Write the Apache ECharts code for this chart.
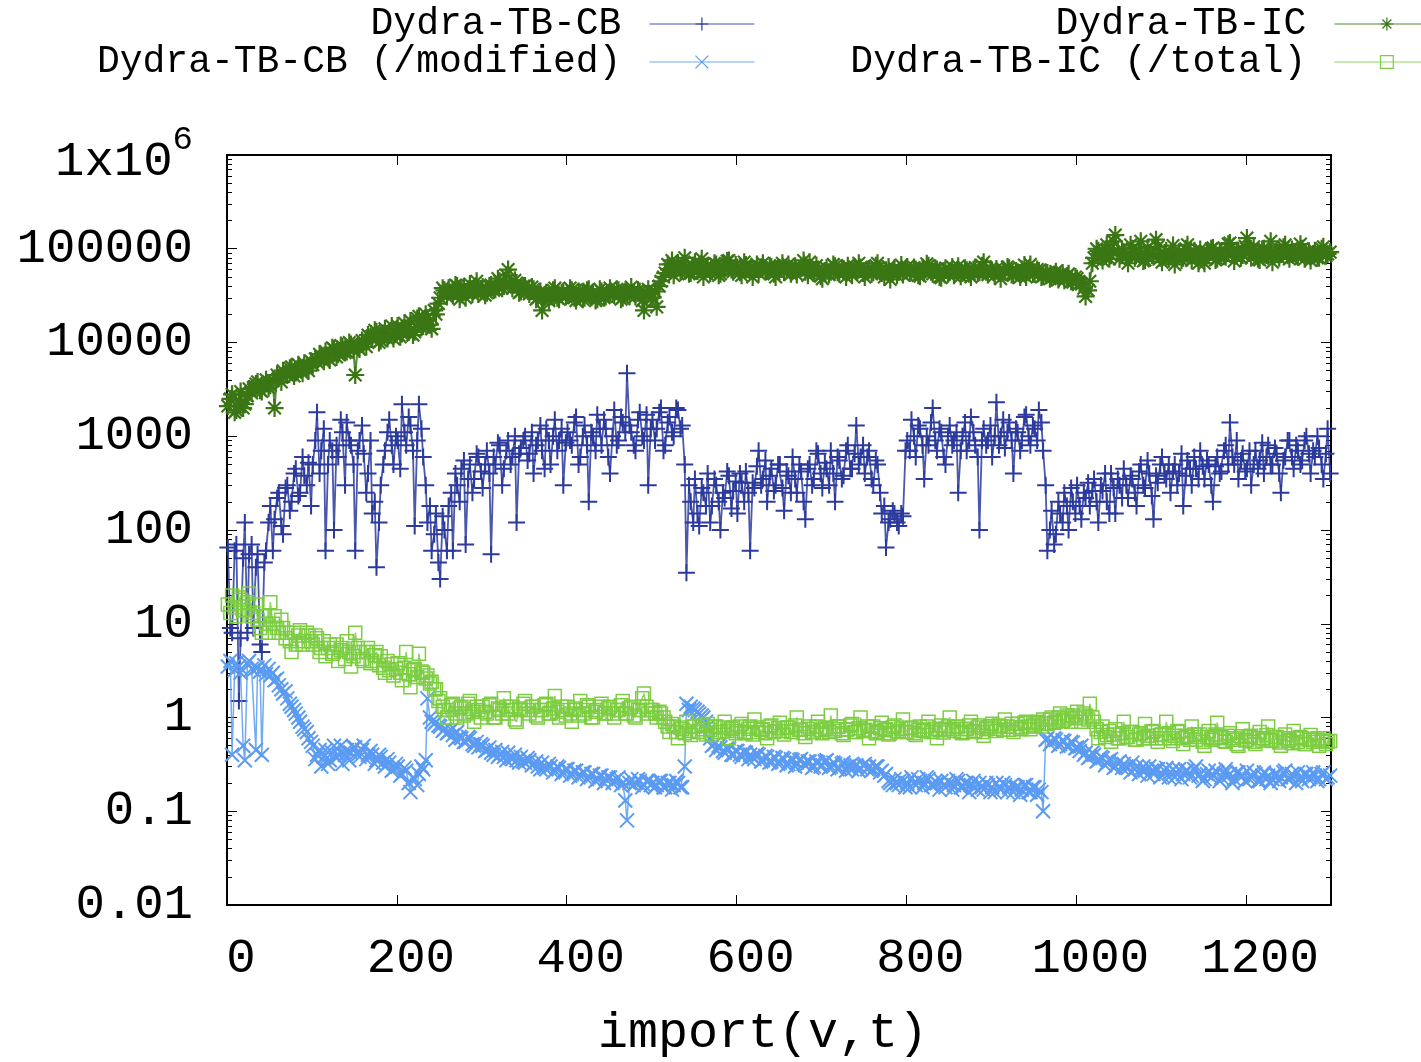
<!DOCTYPE html>
<html><head><meta charset="utf-8">
<script src="https://cdn.jsdelivr.net/npm/echarts@6/dist/echarts.min.js"></script>
<style>html,body{margin:0;padding:0;background:#fff}#c{width:1421px;height:1062px}</style>
</head><body><div id="c"></div>
<script>
// import index (x)
const importIdx = [
1,4,6,9,11,14,16,19,21,24,26,29,31,34,36,39,41,44,46,49,
51,54,56,59,61,64,66,69,71,74,76,79,81,84,86,89,91,94,96,99,
101,104,106,109,111,114,116,119,121,124,126,129,131,134,136,139,141,144,146,149,
151,154,156,159,161,164,166,169,171,174,176,179,181,184,186,189,191,194,196,199,
201,204,206,209,211,214,216,219,221,224,226,229,231,234,236,239,241,244,246,249,
251,254,256,259,261,264,266,269,271,274,276,279,281,284,286,289,291,294,296,299,
301,304,306,309,311,314,316,319,321,324,326,329,331,334,336,339,341,344,346,349,
351,354,356,359,361,364,366,369,371,374,376,379,381,384,386,389,391,394,396,399,
401,404,406,409,411,414,416,419,421,424,426,429,431,434,436,439,441,444,446,449,
451,454,456,459,461,464,466,469,471,474,476,479,481,484,486,489,491,494,496,499,
501,504,506,509,511,514,516,519,521,524,526,529,531,534,536,539,541,544,546,549,
551,554,556,559,561,564,566,569,571,574,576,579,581,584,586,589,591,594,596,599,
601,604,606,609,611,614,616,619,621,624,626,629,631,634,636,639,641,644,646,649,
651,654,656,659,661,664,666,669,671,674,676,679,681,684,686,689,691,694,696,699,
701,704,706,709,711,714,716,719,721,724,726,729,731,734,736,739,741,744,746,749,
751,754,756,759,761,764,766,769,771,774,776,779,781,784,786,789,791,794,796,799,
801,804,806,809,811,814,816,819,821,824,826,829,831,834,836,839,841,844,846,849,
851,854,856,859,861,864,866,869,871,874,876,879,881,884,886,889,891,894,896,899,
901,904,906,909,911,914,916,919,921,924,926,929,931,934,936,939,941,944,946,949,
951,954,956,959,961,964,966,969,971,974,976,979,981,984,986,989,991,994,996,999,
1001,1004,1006,1009,1011,1014,1016,1019,1021,1024,1026,1029,1031,1034,1036,1039,1041,1044,1046,1049,
1051,1054,1056,1059,1061,1064,1066,1069,1071,1074,1076,1079,1081,1084,1086,1089,1091,1094,1096,1099,
1101,1104,1106,1109,1111,1114,1116,1119,1121,1124,1126,1129,1131,1134,1136,1139,1141,1144,1146,1149,
1151,1154,1156,1159,1161,1164,1166,1169,1171,1174,1176,1179,1181,1184,1186,1189,1191,1194,1196,1199,
1201,1204,1206,1209,1211,1214,1216,1219,1221,1224,1226,1229,1231,1234,1236,1239,1241,1244,1246,1249,
1251,1254,1256,1259,1261,1264,1266,1269,1271,1274,1276,1279,1281,1284,1286,1289,1291,1294,1296,1299
];
// Dydra-TB-CB
const cbValues = [
65,9,8,60,70,1.5,7,50,120,8,55,70,9,40,55,6,5,45,60,120,
180,60,130,220,250,110,90,280,300,160,200,400,450,230,250,600,380,300,520,180,
500,900,1800,400,700,1200,60,500,900,700,100,800,600,1500,1100,300,1400,900,800,500,
60,700,900,1300,650,250,400,900,150,200,40,120,300,500,700,1100,1500,800,500,1000,
900,450,2200,1100,800,1600,1300,700,110,900,2200,1200,600,300,120,180,60,90,150,45,
30,140,100,60,180,250,60,400,300,200,450,550,70,350,500,250,350,650,600,420,
280,500,700,400,55,600,500,850,800,300,450,700,900,500,600,1000,120,650,750,900,
1000,550,650,1100,400,800,900,1300,700,450,1200,900,500,1000,1500,700,900,1200,300,850,
1100,900,800,1400,1600,500,600,1000,1300,800,200,1100,1000,700,1700,1200,800,1500,1200,600,
400,1000,1900,800,900,1600,1400,1100,4700,1300,1100,800,700,1500,1800,1000,900,1700,300,1200,
1500,900,1200,1800,2000,700,800,1400,1600,1100,1000,2000,1900,1200,1300,500,35,300,200,120,
350,150,110,280,250,180,400,120,180,350,300,200,100,250,220,420,380,170,260,330,
150,400,320,200,420,250,60,320,280,480,700,300,350,550,200,380,450,260,300,500,
500,280,160,420,380,250,600,350,250,500,420,200,130,450,500,300,350,700,650,400,
280,520,450,300,700,400,200,600,550,350,380,700,800,450,450,650,1300,500,600,800,
400,600,700,350,300,550,500,250,150,180,65,120,130,160,150,120,110,150,140,700,
900,700,1500,1000,600,1300,1200,800,350,1000,800,1400,2000,900,700,1200,1100,600,500,1000,
1300,800,900,1100,250,700,1000,1400,700,900,1600,1100,800,600,100,900,1200,800,900,1300,
600,1000,2300,800,1000,1500,750,1100,1400,900,400,1200,1100,700,900,1600,1700,1000,800,1300,
1200,900,1900,1400,700,300,60,100,160,70,90,200,150,120,250,180,100,280,200,150,
300,180,130,250,220,320,180,260,350,200,120,300,260,400,200,150,400,280,150,350,
300,220,450,300,220,380,350,250,180,420,500,300,280,550,400,230,130,380,320,500,
600,400,350,500,250,420,500,300,400,650,180,380,550,450,300,600,450,350,700,480,
350,550,500,300,200,480,600,400,420,700,800,500,1400,600,500,900,350,550,650,420,
450,700,300,500,700,450,550,850,400,600,800,500,500,750,650,400,250,550,600,900,
900,600,450,800,700,500,550,900,1000,650,400,700,600,1000,750,500,350,650,1200,400
];
// Dydra-TB-CB (/modified)
const cbModifiedValues = [
3.5,4,0.4,3.2,3.8,3.5,3,0.5,0.35,3.8,4,3.3,3.2,0.45,3.4,3.1,0.4,3.6,2.9,3.3,
2.8,3,2.5,2.6,2.2,2,1.8,1.9,1.6,1.4,1.3,1.2,1.1,1.0,0.9,0.8,0.75,0.7,0.6,0.55,
0.5,0.36,0.4,0.45,0.3,0.38,0.45,0.32,0.35,0.42,0.5,0.37,0.4,0.5,0.32,0.4,0.45,0.35,0.42,0.48,
0.48,0.4,0.38,0.45,0.5,0.36,0.4,0.44,0.4,0.32,0.35,0.4,0.38,0.33,0.3,0.36,0.33,0.27,0.28,0.32,
0.3,0.24,0.25,0.29,0.27,0.2,0.16,0.23,0.22,0.19,0.25,0.3,0.28,0.35,1.6,1.0,0.9,0.85,0.9,0.82,
0.8,0.72,0.75,0.68,0.7,0.74,0.65,0.58,0.7,0.62,0.6,0.55,0.55,0.62,0.6,0.52,0.5,0.55,0.48,0.52,
0.5,0.44,0.45,0.48,0.42,0.4,0.45,0.38,0.4,0.43,0.38,0.35,0.42,0.37,0.36,0.4,0.35,0.33,0.38,0.34,
0.33,0.37,0.35,0.31,0.32,0.34,0.3,0.28,0.33,0.29,0.28,0.32,0.3,0.26,0.27,0.3,0.29,0.25,0.26,0.28,
0.28,0.24,0.25,0.27,0.27,0.23,0.24,0.26,0.26,0.22,0.23,0.25,0.25,0.21,0.22,0.24,0.24,0.2,0.22,0.23,
0.23,0.2,0.21,0.22,0.23,0.19,0.2,0.13,0.08,0.2,0.22,0.19,0.2,0.22,0.21,0.18,0.19,0.21,0.21,0.19,
0.2,0.18,0.19,0.21,0.21,0.18,0.18,0.2,0.2,0.17,0.19,0.21,0.2,0.18,0.18,0.3,1.4,1.2,1.3,1.25,
1.2,1.15,1.1,1.05,1.0,0.9,0.8,0.6,0.5,0.52,0.45,0.5,0.48,0.44,0.42,0.47,0.46,0.4,0.4,0.44,
0.44,0.4,0.38,0.43,0.42,0.36,0.4,0.38,0.36,0.41,0.4,0.34,0.35,0.39,0.38,0.33,0.34,0.38,0.37,0.32,
0.33,0.37,0.36,0.31,0.32,0.36,0.35,0.3,0.33,0.35,0.36,0.32,0.31,0.34,0.34,0.29,0.3,0.34,0.33,0.3,
0.31,0.34,0.35,0.29,0.3,0.33,0.32,0.28,0.29,0.32,0.33,0.27,0.3,0.31,0.28,0.3,0.31,0.27,0.29,0.31,
0.32,0.28,0.3,0.27,0.28,0.3,0.3,0.26,0.27,0.24,0.25,0.21,0.2,0.19,0.22,0.2,0.19,0.22,0.21,0.18,
0.2,0.18,0.23,0.2,0.19,0.22,0.21,0.18,0.2,0.23,0.22,0.19,0.19,0.21,0.2,0.17,0.21,0.19,0.18,0.21,
0.2,0.17,0.19,0.22,0.21,0.18,0.18,0.2,0.2,0.16,0.19,0.21,0.18,0.17,0.2,0.18,0.17,0.2,0.19,0.16,
0.18,0.16,0.2,0.18,0.17,0.2,0.19,0.16,0.18,0.19,0.16,0.18,0.18,0.15,0.17,0.19,0.19,0.16,0.16,0.18,
0.18,0.15,0.17,0.16,0.1,0.58,0.6,0.52,0.55,0.6,0.58,0.5,0.52,0.57,0.56,0.49,0.5,0.55,0.54,0.47,
0.48,0.44,0.5,0.4,0.42,0.37,0.38,0.42,0.4,0.34,0.35,0.38,0.37,0.31,0.33,0.35,0.36,0.29,0.3,0.33,
0.34,0.29,0.32,0.3,0.29,0.26,0.33,0.28,0.3,0.25,0.28,0.3,0.27,0.24,0.3,0.27,0.25,0.28,0.28,0.23,
0.24,0.27,0.29,0.23,0.26,0.28,0.23,0.25,0.28,0.22,0.25,0.27,0.27,0.23,0.24,0.28,0.3,0.24,0.25,0.21,
0.22,0.25,0.27,0.23,0.24,0.27,0.26,0.21,0.23,0.25,0.28,0.24,0.25,0.2,0.22,0.26,0.26,0.23,0.24,0.21,
0.27,0.22,0.23,0.26,0.25,0.21,0.21,0.24,0.26,0.22,0.24,0.2,0.22,0.25,0.25,0.21,0.23,0.26,0.27,0.22,
0.22,0.25,0.24,0.2,0.26,0.23,0.21,0.25,0.25,0.22,0.23,0.26,0.24,0.21,0.22,0.25,0.26,0.22,0.23,0.24
];
// Dydra-TB-IC
const icValues = [
2100,2500,2800,1800,1900,2400,3000,2000,2200,2700,3200,2900,3300,3600,3800,3100,3000,3500,4000,3300,
3500,3900,2000,4500,4200,3800,5000,4600,4500,5300,5500,4400,4800,5800,5200,4700,6000,5400,5000,6300,
5800,6700,6200,7500,7000,6300,8000,7200,6500,8800,8500,7000,7500,9300,9000,7800,8000,10000,9500,8300,
4500,9000,8500,10500,10000,9000,12000,11500,11000,13500,13000,10000,10500,12500,14000,11000,12000,15000,11000,12500,
15000,11500,12500,16000,14000,13000,17000,12000,13000,18000,19000,14500,15000,20000,18000,15500,14000,22000,20000,26000,
30000,38000,36000,31000,38000,34000,32000,41000,40000,29000,35000,39000,30000,36000,42000,33000,36000,45000,33000,37000,
39000,32000,34000,40000,41000,36000,37000,48000,45000,38000,40000,52000,60000,42000,38000,46000,43000,34000,35000,40000,
40000,36000,33000,39000,37000,29000,30000,35000,22000,32000,34000,28000,31000,36000,38000,30000,29000,34000,35000,31000,
32000,38000,36000,30000,28000,35000,34000,29000,30000,36000,37000,32000,33000,28000,29000,37000,35000,30000,31000,34000,
38000,33000,32000,37000,36000,29000,30000,35000,34000,31000,39000,34000,31000,36000,35000,28000,22000,33000,37000,30000,
30000,35000,24000,40000,45000,50000,55000,68000,60000,75000,52000,62000,70000,56000,58000,80000,65000,54000,55000,66000,
72000,58000,60000,78000,50000,64000,66000,55000,58000,70000,68000,52000,54000,65000,62000,74000,75000,60000,57000,67000,
63000,56000,52000,72000,67000,60000,59000,50000,61000,68000,55000,63000,70000,57000,58000,66000,64000,54000,50000,62000,
62000,70000,56000,60000,68000,54000,59000,65000,53000,61000,63000,75000,57000,52000,72000,60000,55000,66000,60000,51000,
48000,58000,62000,53000,57000,68000,65000,56000,54000,62000,60000,50000,66000,59000,52000,64000,58000,70000,63000,55000,
50000,60000,61000,54000,56000,66000,70000,58000,55000,50000,59000,64000,47000,56000,62000,52000,57000,67000,53000,59000,
64000,55000,56000,63000,60000,52000,51000,61000,58000,69000,66000,57000,54000,62000,60000,50000,49000,58000,62000,54000,
57000,64000,52000,58000,65000,51000,55000,62000,59000,54000,50000,60000,63000,55000,56000,66000,72000,57000,53000,61000,
58000,52000,61000,55000,48000,60000,57000,64000,62000,53000,52000,58000,56000,50000,60000,67000,50000,56000,68000,54000,
54000,60000,58000,50000,51000,56000,55000,48000,49000,53000,57000,47000,52000,55000,46000,51000,54000,45000,44000,50000,
48000,43000,42000,38000,31000,36000,45000,70000,80000,100000,95000,82000,75000,90000,110000,78000,85000,120000,140000,95000,
78000,98000,92000,84000,70000,110000,100000,80000,88000,96000,120000,74000,76000,102000,90000,86000,82000,125000,105000,80000,
72000,90000,95000,78000,86000,108000,68000,84000,92000,76000,80000,100000,110000,85000,75000,95000,88000,70000,98000,82000,
70000,92000,85000,100000,102000,76000,78000,94000,90000,84000,82000,112000,115000,88000,74000,96000,95000,80000,86000,106000,
130000,90000,80000,105000,92000,78000,76000,98000,100000,86000,84000,120000,72000,92000,96000,80000,88000,104000,110000,85000,
78000,98000,90000,84000,82000,112000,100000,78000,86000,94000,75000,88000,95000,80000,80000,100000,105000,84000,88000,92000
];
// Dydra-TB-IC (/total)
const icTotalValues = [
16,13,20,15,12,19,18,14,14,17,21,12,13,16,11,9,8,12,10,8,
17,10,12,9,8,11,9,7,8,6.5,5,8,6,7.5,8.5,6,6.5,8,7.5,6.5,
6,7.5,7,5,5.5,6.5,4.5,5.5,6,4.8,5,6,4,5.2,5.5,4.2,6.5,5,3.5,4.5,
8,5.5,5,4.2,4,5,5.5,3.8,4,4.6,5,3.6,4.5,3.4,3,4,3.2,3.7,2.8,3.3,
3.8,3,2.5,3.4,5,2.9,2.1,3.2,3.3,2.7,4.8,3.1,3,2.6,2.8,2.3,2.4,2.0,2.0,1.5,
1.6,1.3,1.2,1.0,1.2,1.35,1.4,1.1,1.0,1.25,1.3,1.05,1.1,1.4,1.5,1.15,0.9,1.3,1.2,1.0,
1.3,1.15,1.1,1.35,1.4,1.0,1.0,1.25,1.2,1.1,1.6,1.3,1.1,1.2,1.3,0.95,0.9,1.25,1.2,1.4,
1.5,1.2,1.1,1.3,1.3,1.05,1.0,1.2,1.2,1.35,1.4,1.1,1.1,1.25,1.7,1.15,1.0,1.3,1.2,1.05,
1.3,1.1,0.9,1.25,1.2,1.05,1.5,1.2,1.1,1.35,1.3,1.0,1.0,1.15,1.2,1.3,1.4,1.1,1.1,1.25,
1.3,1.1,1.0,1.2,1.2,1.35,1.5,1.1,1.1,1.25,1.3,1.05,1.0,1.2,1.2,1.6,1.8,1.3,1.1,1.2,
1.2,1.1,1.0,1.15,1.1,1.0,0.9,0.8,0.7,0.85,0.8,0.7,0.6,0.78,0.75,0.68,0.9,0.72,0.65,0.8,
0.8,0.7,0.7,0.82,0.75,0.66,0.85,0.74,0.65,0.8,0.8,0.7,0.7,0.78,0.9,0.72,0.6,0.76,0.78,0.68,
0.72,0.8,0.85,0.7,0.68,0.76,0.8,0.66,0.95,0.78,0.7,0.74,0.75,0.68,0.6,0.8,0.82,0.7,0.72,0.77,
0.88,0.72,0.66,0.78,0.78,0.7,0.7,0.82,1.0,0.74,0.74,0.68,0.62,0.76,0.8,0.7,0.7,0.8,0.9,0.73,
0.68,0.78,0.76,0.7,1.05,0.75,0.72,0.8,0.8,0.68,0.65,0.74,0.75,0.82,0.85,0.7,0.7,0.77,1.0,0.72,
0.74,0.8,0.6,0.72,0.8,0.68,0.7,0.77,0.88,0.73,0.75,0.66,0.68,0.79,0.82,0.71,0.72,0.76,0.95,0.7,
0.7,0.77,0.78,0.68,0.65,0.74,0.8,0.72,0.74,0.8,0.9,0.7,0.7,0.76,0.6,0.73,0.82,0.69,0.76,0.8,
1.0,0.75,0.72,0.79,0.8,0.7,0.68,0.76,0.75,0.82,0.9,0.72,0.7,0.78,0.82,0.7,0.64,0.75,0.78,0.81,
0.86,0.76,0.72,0.82,0.8,0.74,0.95,0.8,0.74,0.86,0.7,0.79,0.85,0.75,0.78,0.88,0.9,0.8,0.75,0.84,
0.82,0.9,0.88,0.8,0.95,0.86,0.85,0.95,1.0,0.88,0.9,1.0,1.1,0.92,0.95,1.05,1.0,0.9,1.05,0.98,
1.15,1.0,0.9,1.1,1.05,0.95,1.4,1.0,0.9,0.75,0.6,0.7,0.8,0.62,0.65,0.72,0.55,0.66,0.75,0.6,
0.6,0.68,0.9,0.62,0.62,0.7,0.7,0.58,0.58,0.66,0.68,0.6,0.85,0.64,0.6,0.7,0.72,0.6,0.55,0.65,
0.66,0.6,0.9,0.68,0.6,0.56,0.64,0.72,0.7,0.6,0.52,0.64,0.62,0.58,0.8,0.66,0.58,0.62,0.66,0.55,
0.5,0.62,0.72,0.58,0.6,0.66,0.88,0.6,0.62,0.56,0.55,0.64,0.68,0.58,0.6,0.52,0.5,0.63,0.75,0.57,
0.58,0.62,0.64,0.55,0.52,0.6,0.7,0.57,0.6,0.65,0.8,0.58,0.56,0.62,0.62,0.54,0.5,0.6,0.66,0.56,
0.58,0.53,0.72,0.6,0.55,0.62,0.6,0.52,0.52,0.58,0.65,0.55,0.58,0.6,0.5,0.57,0.6,0.52,0.55,0.56
];
const seriesNames = ['Dydra-TB-CB','Dydra-TB-CB (/modified)','Dydra-TB-IC','Dydra-TB-IC (/total)'];
const xTickValues = [0,200,400,600,800,1000,1200];
const yTickValues = [0.01,0.1,1,10,100,1000,10000,100000,1000000];
const yTickLabels = ['0.01','0.1','1','10','100','1000','10000','100000','1x10^6'];
const xAxisTitle = 'import(v,t)';

const FONT = '"Liberation Mono","DejaVu Sans Mono",monospace';
const COLORS = ['#2b3a9c','#5b9bf2','#3a7614','#7ccd42'];
const SYMBOLS = [
  'path://M0,5L10,5M5,0L5,10',
  'path://M0,0L10,10M10,0L0,10',
  'path://M5,0L5,10M0,5L10,5M1.5,1.5L8.5,8.5M8.5,1.5L1.5,8.5',
  'rect'
];
const SIZES = [17, 14, 18, 13];
const BORDERS = [2, 2, 2.2, 1.5];
const LINEW = [1.8, 1.5, 2, 1.5];
const allValues = [cbValues, cbModifiedValues, icValues, icTotalValues];

// minor tick positions (log10 space) for a log axis 0.01..1e6
const minorTicks = [];
for (let n = -2; n < 6; n++) for (let k = 2; k <= 9; k++) minorTicks.push(n + Math.log10(k));

const series = allValues.map((vals, s) => ({
  name: seriesNames[s], type: 'line',
  xAxisIndex: 0, yAxisIndex: 0,
  data: importIdx.map((x, i) => [x, vals[i]]),
  symbol: SYMBOLS[s], symbolSize: SIZES[s], showSymbol: true, showAllSymbol: true,
  clip: false,
  lineStyle: {color: COLORS[s], width: LINEW[s], opacity: 0.85},
  itemStyle: {color: 'rgba(0,0,0,0)', borderColor: COLORS[s], borderWidth: BORDERS[s]},
  emphasis: {disabled: true},
  z: 2 + s
}));

function legendFor(i, right, top) {
  return {
    data: [seriesNames[i]], right: right, top: top, align: 'right', orient: 'horizontal',
    itemWidth: 105, itemHeight: 16, selectedMode: false,
    itemStyle: {borderWidth: 1.2},
    lineStyle: {width: 1.2},
    textStyle: {fontFamily: FONT, fontSize: 38, color: '#000', padding: [0, 23, 0, 0]}
  };
}

const chart = echarts.init(document.getElementById('c'), null, {renderer: 'canvas'});
chart.setOption({
  animation: false,
  backgroundColor: '#fff',
  grid: {left: 227, right: 90, top: 155, bottom: 157, show: true, borderColor: '#000', borderWidth: 2,
         backgroundColor: 'rgba(0,0,0,0)', containLabel: false, outerBoundsMode: 'none'},
  legend: [legendFor(0, 661, 0), legendFor(1, 661, 38), legendFor(2, -24, 0), legendFor(3, -24, 38)],
  xAxis: [{
    type: 'value', min: 0, max: 1300, position: 'bottom',
    axisLine: {show: false, onZero: false},
    axisTick: {show: true, inside: true, length: 10, customValues: xTickValues, lineStyle: {color: '#000', width: 1}},
    axisLabel: {show: true, customValues: xTickValues, formatter: v => String(v), fontFamily: FONT, fontSize: 49, color: '#000', margin: 30, padding: [0, 0, 0, 28]},
    splitLine: {show: false},
    name: xAxisTitle, nameLocation: 'middle', nameGap: 104,
    nameTextStyle: {fontFamily: FONT, fontSize: 50, color: '#000', padding: [0, 32, 0, 0]}
  }, {
    type: 'value', min: 0, max: 1300, position: 'top',
    axisLine: {show: false, onZero: false},
    axisTick: {show: true, inside: true, length: 10, customValues: xTickValues, lineStyle: {color: '#000', width: 1}},
    axisLabel: {show: false}, splitLine: {show: false}
  }],
  yAxis: [{
    type: 'log', logBase: 10, min: 0.01, max: 1000000, position: 'left',
    axisLine: {show: false, onZero: false},
    axisTick: {show: true, inside: true, length: 10, customValues: yTickValues, lineStyle: {color: '#000', width: 1}},
    axisLabel: {
      show: true, customValues: yTickValues, margin: 34, color: '#000', fontFamily: FONT, fontSize: 49,
      formatter: function (v) {
        let idx = 0, best = Infinity;
        yTickValues.forEach((t, i) => { const d = Math.abs(Math.log10(t) - Math.log10(v)); if (d < best) { best = d; idx = i; } });
        const lab = yTickLabels[idx];
        if (lab.indexOf('^') >= 0) { const p = lab.split('^'); return '{t|\u200b}{b|' + p[0] + '}{s|' + p[1] + '}'; }
        return lab;
      },
      rich: {
        t: {fontFamily: FONT, fontSize: 49, lineHeight: 64},
        b: {fontFamily: FONT, fontSize: 49, color: '#000', verticalAlign: 'bottom', lineHeight: 49},
        s: {fontFamily: FONT, fontSize: 34, color: '#000', verticalAlign: 'top', lineHeight: 34}
      }
    },
    splitLine: {show: false}
  }, {
    type: 'log', logBase: 10, min: 0.01, max: 1000000, position: 'right',
    axisLine: {show: false, onZero: false},
    axisTick: {show: true, inside: true, length: 10, customValues: yTickValues, lineStyle: {color: '#000', width: 1}},
    axisLabel: {show: false}, splitLine: {show: false}
  }, {
    type: 'value', min: -2, max: 6, position: 'left',
    axisLine: {show: false, onZero: false},
    axisTick: {show: true, inside: true, length: 5, customValues: minorTicks, lineStyle: {color: '#000', width: 1}},
    axisLabel: {show: false}, splitLine: {show: false}
  }, {
    type: 'value', min: -2, max: 6, position: 'right',
    axisLine: {show: false, onZero: false},
    axisTick: {show: true, inside: true, length: 5, customValues: minorTicks, lineStyle: {color: '#000', width: 1}},
    axisLabel: {show: false}, splitLine: {show: false}
  }],
  series: series
});
</script>
</body></html>
